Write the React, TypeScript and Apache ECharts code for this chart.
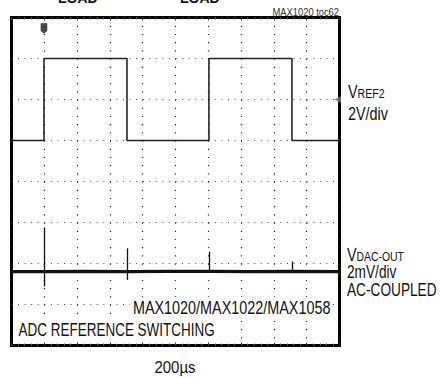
import React, { useEffect, useRef } from "react";
import * as echarts from "echarts";

// Oscilloscope-style axes: 10 horizontal divisions, 8 vertical divisions
const xDivs = [0, 10];
const yDivs = [0, 8];

// VREF2 trace (upper square wave), in divisions
const vrefX = [0, 0.99, 0.99, 3.52, 3.52, 6.02, 6.02, 8.55, 8.55, 10];
const vrefY = [5, 5, 7, 7, 5, 5, 7, 7, 5, 5];

// VDAC-OUT trace (lower, AC-coupled) baseline, in divisions
const dacX = [0, 0.99, 2.2, 3.52, 4.8, 6.02, 7.3, 8.55, 10];
const dacY = [1.8, 1.8, 1.81, 1.8, 1.81, 1.81, 1.8, 1.81, 1.8];

// Switching glitches on VDAC-OUT
const spikeX = [0.99, 3.52, 6.02, 8.55];
const spikeTop = [2.88, 2.37, 2.29, 2.05];
const spikeBottom = [1.44, 1.6, 1.77, 1.79];

// Markers
const refMarker = [10, 6];
const trigMarker = [0.99, 7.73];

const FONT = "'Liberation Sans', Arial, Helvetica, sans-serif";

export default function App() {
  const ref = useRef<HTMLDivElement>(null);
  useEffect(() => {
    if (!ref.current) return;
    const chart = echarts.init(ref.current, null, { renderer: "svg" });
    const txt = (text: string, x: number, y: number, size: number, sx: number, extra: any = {}) => ({
      type: "text",
      x,
      y,
      scaleX: sx,
      silent: true,
      z: 100,
      style: {
        text,
        fontSize: size,
        fontFamily: FONT,
        fill: "#111",
        align: "left",
        verticalAlign: "middle",
        ...extra,
      },
    });
    chart.setOption({
      animation: false,
      backgroundColor: "#fff",
      grid: {
        left: 11.5,
        top: 17.5,
        width: 328,
        height: 328,
        show: true,
        borderWidth: 3,
        borderColor: "#000",
      },
      xAxis: [
        {
          type: "value",
          min: xDivs[0],
          max: xDivs[1],
          interval: 1,
          axisLine: { show: false },
          axisLabel: { show: false },
          axisTick: { show: true, inside: true, length: 3, lineStyle: { color: "#333" } },
          minorTick: { show: true, splitNumber: 5, length: 2, lineStyle: { color: "#555" } },
          splitLine: { show: true, lineStyle: { color: "#222", width: 1.2, type: [1.2, 7] } },
        },
        {
          type: "value",
          position: "top",
          min: xDivs[0],
          max: xDivs[1],
          interval: 1,
          axisLine: { show: false },
          axisLabel: { show: false },
          axisTick: { show: true, inside: true, length: 3, lineStyle: { color: "#333" } },
          minorTick: { show: true, splitNumber: 5, length: 2, lineStyle: { color: "#555" } },
          splitLine: { show: false },
        },
      ],
      yAxis: {
        type: "value",
        min: yDivs[0],
        max: yDivs[1],
        interval: 1,
        axisLine: { show: false },
        axisLabel: { show: false },
        axisTick: { show: false },
        splitLine: { show: true, lineStyle: { color: "#444", width: 1, type: [1, 5.56] } },
      },
      series: [
        {
          type: "line",
          data: vrefX.map((x, i) => [x, vrefY[i]]),
          symbol: "none",
          lineStyle: { color: "#222", width: 1.6 },
          z: 5,
        },
        {
          type: "line",
          data: dacX.map((x, i) => [x, dacY[i]]),
          symbol: "none",
          lineStyle: { color: "#111", width: 3.2 },
          z: 5,
          markLine: {
            silent: true,
            symbol: ["none", "none"],
            label: { show: false },
            lineStyle: { color: "#111", width: 1.3, type: "solid" },
            data: spikeX.map((x, i) => [
              { coord: [x, spikeTop[i]] },
              { coord: [x, spikeBottom[i]] },
            ]),
          },
        },
        {
          type: "scatter",
          data: [refMarker],
          symbol: "triangle",
          symbolRotate: 90,
          symbolSize: 7,
          symbolOffset: [-2, 0],
          clip: false,
          itemStyle: { color: "#777" },
          z: 6,
        },
        {
          type: "scatter",
          data: [trigMarker],
          symbol: "path://M0,0 L8,0 L8,8 L4,11 L0,8 Z",
          symbolSize: [6, 10],
          itemStyle: { color: "#222", borderColor: "#000", borderWidth: 0.5 },
          z: 6,
        },
      ],
      graphic: [
        txt("LOAD", 58, 5, 14, 1, { fontWeight: "bold", verticalAlign: "bottom" }),
        txt("LOAD", 180, 5, 14, 1, { fontWeight: "bold", verticalAlign: "bottom" }),
        txt("MAX1020 toc62", 339, 12, 11, 0.85, { align: "right", fill: "#333" }),
        txt("V", 348, 91, 18, 0.8),
        txt("REF2", 357.5, 93.5, 13, 0.82),
        txt("2V/div", 348, 113, 18, 0.8),
        txt("V", 347, 254, 18, 0.8),
        txt("DAC-OUT", 356.5, 256.5, 13, 0.8),
        txt("2mV/div", 347, 272, 18, 0.76),
        txt("AC-COUPLED", 347, 290, 18, 0.76),
        txt("MAX1020/MAX1022/MAX1058", 332, 307, 18, 0.8, {
          align: "right",
          backgroundColor: "#fff",
          padding: [1, 2, 1, 3],
        }),
        txt("ADC REFERENCE SWITCHING", 17, 330, 18, 0.75, {
          backgroundColor: "#fff",
          padding: [1, 3, 1, 2],
        }),
        txt("200µs", 175, 367, 17, 0.88, { align: "center" }),
      ],
    });
    return () => chart.dispose();
  }, []);
  return (
    <div
      ref={ref}
      style={{ position: "fixed", left: 0, top: 0, width: 440, height: 378 }}
    />
  );
}
